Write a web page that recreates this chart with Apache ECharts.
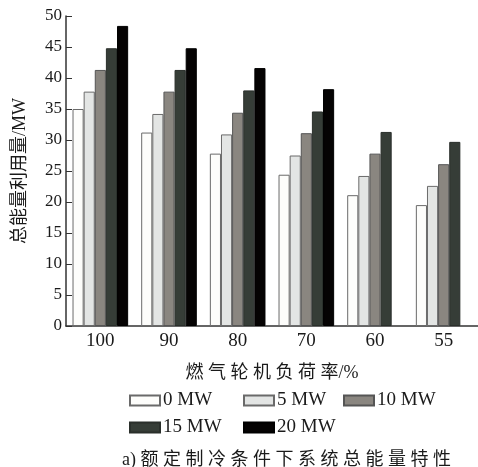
<!DOCTYPE html>
<html>
<head>
<meta charset="utf-8">
<script src="https://cdn.jsdelivr.net/npm/echarts@6/dist/echarts.min.js"></script>
<style>html,body{margin:0;padding:0;background:#fff}#c{width:478px;height:467px}</style>
</head>
<body>
<div id="c"></div>
<script>
const categories = ['100', '90', '80', '70', '60', '55'];
const seriesNames = ['0 MW', '5 MW', '10 MW', '15 MW', '20 MW'];
const s0 = [35.0, 31.2, 27.8, 24.4, 21.1, 19.5];
const s5 = [37.8, 34.2, 30.9, 27.5, 24.2, 22.6];
const s10 = [41.3, 37.8, 34.4, 31.1, 27.8, 26.1];
const s15 = [44.8, 41.3, 38.0, 34.6, 31.3, 29.7];
const s20 = [48.4, 44.8, 41.6, 38.2, null, null];
const yTicks = [0, 5, 10, 15, 20, 25, 30, 35, 40, 45, 50];

const fills = ['#fdfdfb', '#e3e5e4', '#8a8680', '#363d37', '#050303'];
const borders = ['#6a6a6a', '#6a6a6a', '#555', '#2a2f2b', '#000'];
const values = [s0, s5, s10, s15, s20];
const serif = "'Liberation Serif', 'Noto Sans CJK SC', serif";
const txt = '#1a1a1a';

const legendPos = [[129, 391], [243, 391], [343, 391], [129, 418], [243, 418]];
const sp = '\u2005';

const chart = echarts.init(document.getElementById('c'), null, {renderer: 'canvas'});
chart.setOption({
  animation: false,
  backgroundColor: '#ffffff',
  grid: {left: 66, top: 16, width: 424, height: 310, containLabel: false},
  title: {
    text: ['a)', '额', '定', '制', '冷', '条', '件', '下', '系', '统', '总', '能', '量', '特', '性'].join(sp),
    left: 117, top: 446,
    textStyle: {fontFamily: serif, fontSize: 18, fontWeight: 'normal', color: txt}
  },
  legend: seriesNames.map((n, i) => ({
    data: [{name: n, icon: 'rect'}],
    left: legendPos[i][0], top: legendPos[i][1],
    itemWidth: 30, itemHeight: 10, itemGap: 0,
    padding: 0,
    textStyle: {fontFamily: serif, fontSize: 19, color: txt, padding: [0, 0, 0, -2]},
    selectedMode: false
  })),
  xAxis: {
    type: 'category',
    data: categories,
    name: ['燃', '气', '轮', '机', '负', '荷', '率/%'].join(sp),
    nameLocation: 'middle',
    nameGap: 38,
    nameTextStyle: {fontFamily: serif, fontSize: 18, color: txt},
    axisLine: {show: true, lineStyle: {color: '#333', width: 1.5}},
    axisTick: {show: true, inside: true, alignWithLabel: true, length: 4, lineStyle: {color: '#111', width: 2}},
    axisLabel: {fontFamily: serif, fontSize: 19, color: txt, margin: 6},
    splitLine: {show: false}
  },
  yAxis: {
    type: 'value',
    min: 0, max: 50, interval: 5,
    name: '总能量利用量/MW',
    nameLocation: 'middle',
    nameGap: 37,
    nameRotate: 90,
    nameTextStyle: {fontFamily: serif, fontSize: 18, color: txt},
    axisLine: {show: true, lineStyle: {color: '#333', width: 1.5}},
    axisTick: {show: true, inside: true, length: 6, lineStyle: {color: '#333', width: 1}},
    axisLabel: {fontFamily: serif, fontSize: 17, color: txt, margin: 4,
      formatter: v => yTicks.includes(v) ? String(v) : ''},
    splitLine: {show: false}
  },
  series: seriesNames.map((n, i) => ({
    name: n,
    type: 'bar',
    data: values[i],
    barGap: '0%',
    barCategoryGap: '19%',
    itemStyle: {color: fills[i], borderColor: borders[i], borderWidth: 1},
    emphasis: {disabled: true}
  }))
});
</script>
</body>
</html>
